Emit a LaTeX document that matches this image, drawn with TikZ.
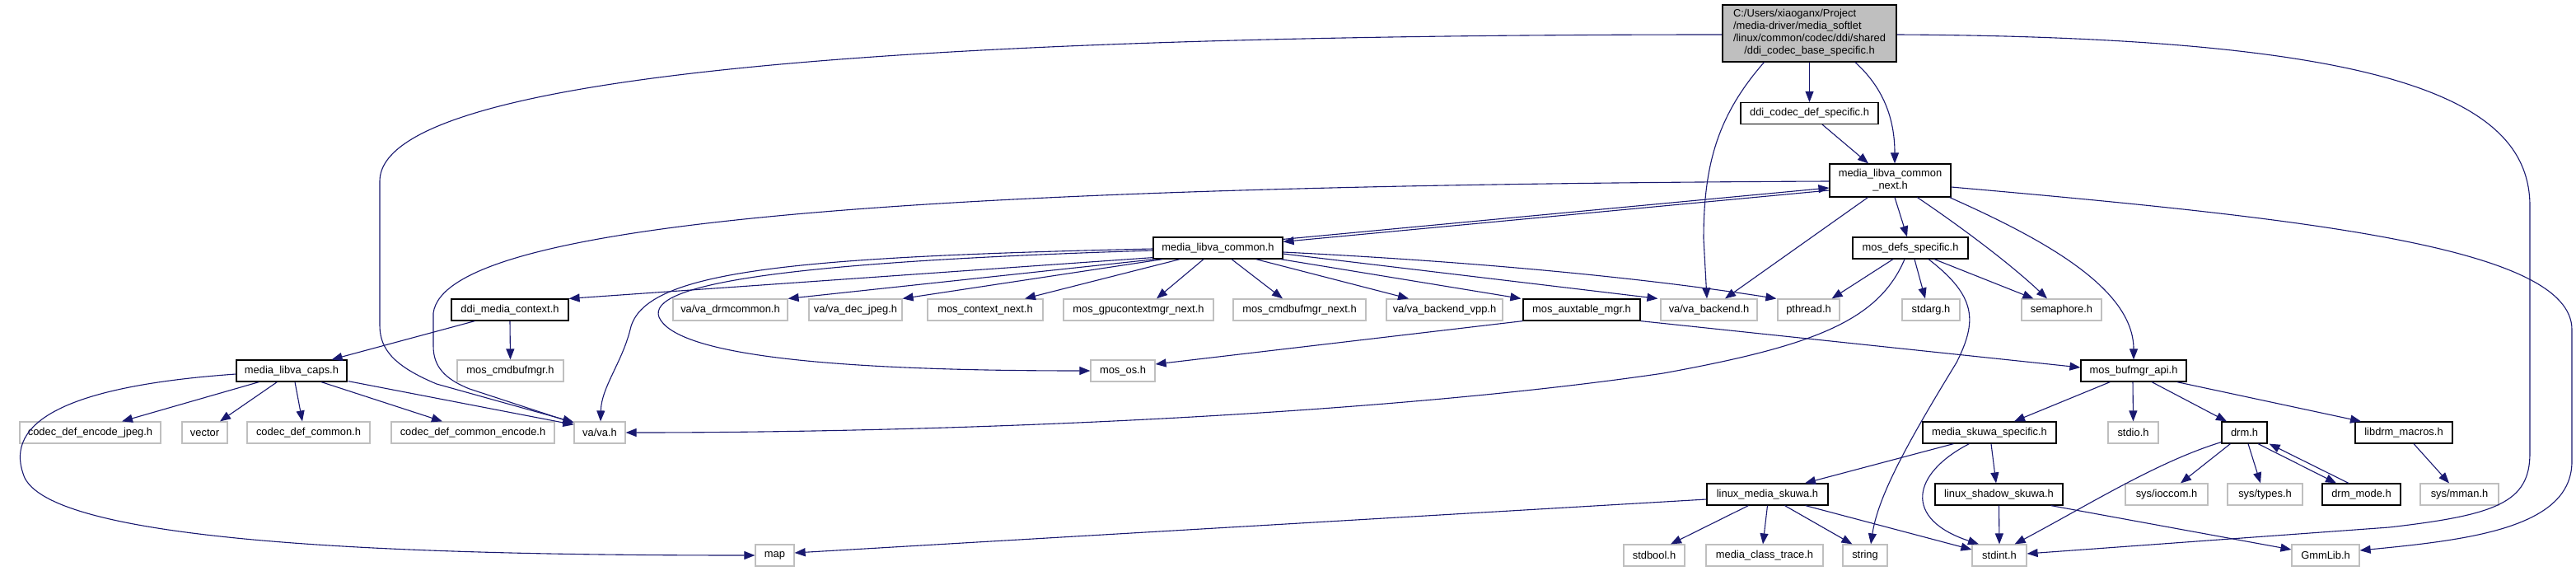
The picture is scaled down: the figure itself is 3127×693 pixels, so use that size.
\documentclass[tikz,border=0pt]{standalone}
\usepackage{fontspec}
\setmainfont{Liberation Sans}
\usetikzlibrary{arrows.meta}
\definecolor{edgecol}{HTML}{191970}
\definecolor{greyb}{HTML}{BFBFBF}
\definecolor{rootfill}{HTML}{BFBFBF}
\begin{document}
\begin{tikzpicture}[x=1pt,y=-1pt,
 incbox/.style={draw=black, line width=1.2pt, fill=white, rectangle, minimum height=26pt, inner sep=0pt, font=\fontsize{12.9}{15}\selectfont},
 extbox/.style={incbox, draw=greyb},
 dep/.style={draw=edgecol, line width=1.1pt, -{Triangle[length=13pt,width=10pt]}},
]
\fill[white] (0,0) rectangle (3127,693);
\useasboundingbox (0,0) rectangle (3127,693);

% rank 0-2
\node[incbox, fill=rootfill, minimum width=211pt, minimum height=69pt] (root) at (2196.5,40.5)
 {\begin{tabular}{@{}l@{}}C:/Users/xiaoganx/Project\\/media-driver/media\_softlet\\/linux/common/codec/ddi/shared\\\multicolumn{1}{@{}c@{}}{/ddi\_codec\_base\_specific.h}\end{tabular}};
\node[incbox, minimum width=167pt] (ddicd) at (2196.5,137.5) {ddi\_codec\_def\_specific.h};
\node[incbox, minimum width=147pt, minimum height=40pt] (mlcn) at (2294.5,219)
 {\begin{tabular}{@{}l@{}}media\_libva\_common\\\multicolumn{1}{@{}c@{}}{\_next.h}\end{tabular}};
% rank 3
\node[incbox, minimum width=157pt] (mlc) at (1478.5,301) {media\_libva\_common.h};
\node[incbox, minimum width=140pt] (mds) at (2319,301) {mos\_defs\_specific.h};
% rank 4
\node[incbox, minimum width=142pt] (dmc) at (619,376) {ddi\_media\_context.h};
\node[extbox, minimum width=139pt] (vdrm) at (886.5,376) {va/va\_drmcommon.h};
\node[extbox, minimum width=113pt] (vjpeg) at (1038.5,376) {va/va\_dec\_jpeg.h};
\node[extbox, minimum width=140pt] (mcn) at (1196,376) {mos\_context\_next.h};
\node[extbox, minimum width=182pt] (mgpu) at (1382,376) {mos\_gpucontextmgr\_next.h};
\node[extbox, minimum width=161pt] (mcbn) at (1577.5,376) {mos\_cmdbufmgr\_next.h};
\node[extbox, minimum width=141pt] (vvpp) at (1753.5,376) {va/va\_backend\_vpp.h};
\node[incbox, minimum width=142pt] (maux) at (1920,376) {mos\_auxtable\_mgr.h};
\node[extbox, minimum width=117pt] (vbe) at (2074.5,376) {va/va\_backend.h};
\node[extbox, minimum width=75pt] (pth) at (2195.5,376) {pthread.h};
\node[extbox, minimum width=70pt] (sta) at (2344,376) {stdarg.h};
\node[extbox, minimum width=97pt] (sem) at (2502.5,376) {semaphore.h};
% rank 5
\node[incbox, minimum width=134pt] (caps) at (354,450) {media\_libva\_caps.h};
\node[extbox, minimum width=129pt] (mcb) at (619.5,450) {mos\_cmdbufmgr.h};
\node[extbox, minimum width=78pt] (mos) at (1363,450) {mos\_os.h};
\node[incbox, minimum width=128pt] (mba) at (2590,450) {mos\_bufmgr\_api.h};
% rank 6
\node[extbox, minimum width=171pt] (cdej) at (109.5,525) {codec\_def\_encode\_jpeg.h};
\node[extbox, minimum width=55pt] (vec) at (248.5,525) {vector};
\node[extbox, minimum width=149pt] (cdc) at (374.5,525) {codec\_def\_common.h};
\node[extbox, minimum width=198pt] (cdce) at (574,525) {codec\_def\_common\_encode.h};
\node[extbox, minimum width=62pt] (vva) at (728,525) {va/va.h};
\node[incbox, minimum width=162pt] (mss) at (2415,525) {media\_skuwa\_specific.h};
\node[extbox, minimum width=61pt] (sio) at (2589.5,525) {stdio.h};
\node[incbox, minimum width=55pt] (drm) at (2724.5,525) {drm.h};
\node[incbox, minimum width=118pt] (ldm) at (2918,525) {libdrm\_macros.h};
% rank 7
\node[incbox, minimum width=147pt] (lms) at (2145.5,600) {linux\_media\_skuwa.h};
\node[incbox, minimum width=155pt] (lss) at (2426.5,600) {linux\_shadow\_skuwa.h};
\node[extbox, minimum width=100pt] (sioc) at (2630,600) {sys/ioccom.h};
\node[extbox, minimum width=91pt] (sty) at (2749.5,600) {sys/types.h};
\node[incbox, minimum width=95pt] (dmo) at (2866.5,600) {drm\_mode.h};
\node[extbox, minimum width=95pt] (smm) at (2985.5,600) {sys/mman.h};
% rank 8
\node[extbox, minimum width=47pt] (map) at (940.5,674) {map};
\node[extbox, minimum width=74pt] (sbo) at (2008,674) {stdbool.h};
\node[extbox, minimum width=142pt] (mct) at (2142,674) {media\_class\_trace.h};
\node[extbox, minimum width=54pt] (str) at (2264,674) {string};
\node[extbox, minimum width=66pt] (sti) at (2427,674) {stdint.h};
\node[extbox, minimum width=82pt] (gmm) at (2823,674) {GmmLib.h};

% root edges
\draw[dep] (root.south) -- (ddicd.north);
\draw[dep] ([shift={(55.5,0)}]root.south) .. controls (2290,110) and (2300,150) .. ([shift={(5.5,0)}]mlcn.north);
\draw[dep] ([shift={(15.5,0)}]ddicd.south) -- ([shift={(-26.5,0)}]mlcn.north);
\draw[dep] ([shift={(0,1.5)}]root.west) .. controls (1200,42) and (461,80) .. (461,220) -- (461,395) .. controls (461,425) and (480,445) .. (530,466) -- ([shift={(0,1)}]vva.north west);
\draw[dep] ([shift={(0,1.5)}]root.east) .. controls (2900,45) and (3071,120) .. (3071,250) -- (3071,550) .. controls (3071,610) and (3030,625) .. (2900,640) -- ([shift={(0,-2)}]sti.east);
\draw[dep] ([shift={(51,0)}]root.south west) .. controls (2085,140) and (2068,200) .. (2068,290) -- ([shift={(-2.5,0)}]vbe.north);

% mlcn edges
\draw[dep] ([shift={(0,1)}]mlcn.west) .. controls (1100,225) and (540,270) .. (526,380) -- (526,420) .. controls (526,445) and (540,460) .. (570,472) -- ([shift={(0,2)}]vva.north west);
\draw[dep] ([shift={(0,3)}]mlc.north east) -- ([shift={(0,9)}]mlcn.west);
\draw[dep] ([shift={(0,12)}]mlcn.west) -- ([shift={(0,6)}]mlc.north east);
\draw[dep] ([shift={(5.5,0)}]mlcn.south) -- ([shift={(-4,0)}]mds.north);
\draw[dep] ([shift={(47,0)}]mlcn.south west) -- ([shift={(19.5,0)}]vbe.north);
\draw[dep] ([shift={(107,0)}]mlcn.south west) .. controls (2380,275) and (2440,320) .. ([shift={(-17.5,0)}]sem.north);
\draw[dep] ([shift={(-2,0)}]mlcn.south east) .. controls (2480,290) and (2590,350) .. (mba.north);
\draw[dep] ([shift={(0,8)}]mlcn.east) .. controls (2800,265) and (3122,300) .. (3122,400) -- (3122,560) .. controls (3122,640) and (3000,655) .. ([shift={(0,-6)}]gmm.east);

% mlc edges
\draw[dep] ([shift={(0,-2)}]mlc.south west) -- (dmc.north east);
\draw[dep] ([shift={(3,0)}]mlc.south west) -- (vdrm.north east);
\draw[dep] ([shift={(12,0)}]mlc.south west) -- (vjpeg.north east);
\draw[dep] ([shift={(33,0)}]mlc.south west) -- ([shift={(48,0)}]mcn.north);
\draw[dep] ([shift={(-17.5,0)}]mlc.south) -- ([shift={(22,0)}]mgpu.north);
\draw[dep] ([shift={(16.5,0)}]mlc.south) -- ([shift={(-20.5,0)}]mcbn.north);
\draw[dep] ([shift={(-33,0)}]mlc.south east) -- ([shift={(-43.5,0)}]vvpp.north);
\draw[dep] ([shift={(-3,0)}]mlc.south east) -- ([shift={(-2,0)}]maux.north west);
\draw[dep] ([shift={(0,7)}]mlc.east) -- ([shift={(-3,0)}]vbe.north west);
\draw[dep] ([shift={(0,5)}]mlc.east) .. controls (1800,318) and (2000,338) .. ([shift={(-1,0)}]pth.north west);
\draw[dep] ([shift={(0,1)}]mlc.west) .. controls (950,312) and (780,330) .. (765,400) .. controls (755,440) and (730,470) .. ([shift={(1,0)}]vva.north);
\draw[dep] ([shift={(0,3)}]mlc.west) .. controls (950,318) and (785,345) .. (800,385) .. controls (820,430) and (1000,450) .. (mos.west);

% mds edges
\draw[dep] ([shift={(-21,0)}]mds.south) -- ([shift={(-10,0)}]pth.north east);
\draw[dep] ([shift={(5,0)}]mds.south) -- ([shift={(-7,0)}]sta.north);
\draw[dep] ([shift={(29,0)}]mds.south) -- ([shift={(15,0)}]sem.north west);
\draw[dep] ([shift={(-7,0)}]mds.south) .. controls (2280,390) and (2200,420) .. (2019,453) .. controls (1700,500) and (1200,525) .. (vva.east);
\draw[dep] ([shift={(22,0)}]mds.south) .. controls (2400,360) and (2400,390) .. (2375,440) .. controls (2320,530) and (2280,600) .. ([shift={(7,0)}]str.north);

% maux, dmc
\draw[dep] (maux.south west) -- ([shift={(0,-8)}]mos.east);
\draw[dep] (maux.south east) -- ([shift={(0,-4)}]mba.west);
\draw[dep] ([shift={(29,0)}]dmc.south west) -- ([shift={(-19,0)}]caps.north east);
\draw[dep] (dmc.south) -- (mcb.north);

% caps
\draw[dep] ([shift={(28,0)}]caps.south west) -- ([shift={(38.5,0)}]cdej.north);
\draw[dep] ([shift={(50,0)}]caps.south west) -- ([shift={(18.5,0)}]vec.north);
\draw[dep] ([shift={(4,0)}]caps.south) -- ([shift={(-7.5,0)}]cdc.north);
\draw[dep] ([shift={(36,0)}]caps.south) -- ([shift={(-37,0)}]cdce.north);
\draw[dep] ([shift={(1,-1)}]caps.south east) -- ([shift={(0,4)}]vva.north west);
\draw[dep] ([shift={(0,4)}]caps.west) .. controls (60,470) and (5,520) .. (30,580) .. controls (70,660) and (500,674) .. (map.west);

% mba
\draw[dep] ([shift={(36,0)}]mba.south west) -- ([shift={(30,0)}]mss.north);
\draw[dep] ([shift={(-1,0)}]mba.south) -- (sio.north);
\draw[dep] ([shift={(22,0)}]mba.south) -- ([shift={(-21.5,0)}]drm.north);
\draw[dep] ([shift={(-12,0)}]mba.south east) -- ([shift={(-52,0)}]ldm.north);

% mss
\draw[dep] ([shift={(38,0)}]mss.south west) -- ([shift={(45.5,0)}]lms.north);
\draw[dep] ([shift={(57,0)}]mss.south west) .. controls (2320,575) and (2310,630) .. ([shift={(-25,0)}]sti.north);
\draw[dep] ([shift={(2,0)}]mss.south) -- ([shift={(-3.5,0)}]lss.north);

% lms
\draw[dep] ([shift={(0,6)}]lms.west) -- ([shift={(0,-3)}]map.east);
\draw[dep] ([shift={(51,0)}]lms.south west) -- ([shift={(20,0)}]sbo.north);
\draw[dep] (lms.south) -- ([shift={(-2,0)}]mct.north);
\draw[dep] ([shift={(21,0)}]lms.south) -- ([shift={(12,0)}]str.north west);
\draw[dep] ([shift={(-28,0)}]lms.south east) -- ([shift={(0,-7)}]sti.west);

% lss
\draw[dep] (lss.south) -- (sti.north);
\draw[dep] ([shift={(-15,0)}]lss.south east) -- ([shift={(0,-7)}]gmm.west);

% drm
\draw[dep] ([shift={(0,-2)}]drm.south west) .. controls (2620,560) and (2540,610) .. ([shift={(-15,0)}]sti.north east);
\draw[dep] ([shift={(11,0)}]drm.south west) -- ([shift={(17,0)}]sioc.north);
\draw[dep] ([shift={(4.5,0)}]drm.south) -- ([shift={(-5.5,0)}]sty.north);
\draw[dep] ([shift={(16.5,0)}]drm.south) -- ([shift={(-30.5,0)}]dmo.north);
\draw[dep] ([shift={(-15.5,0)}]dmo.north) -- ([shift={(2,0)}]drm.south east);
\draw[dep] ([shift={(12,0)}]ldm.south) -- ([shift={(-12.5,0)}]smm.north);
\end{tikzpicture}
\end{document}
